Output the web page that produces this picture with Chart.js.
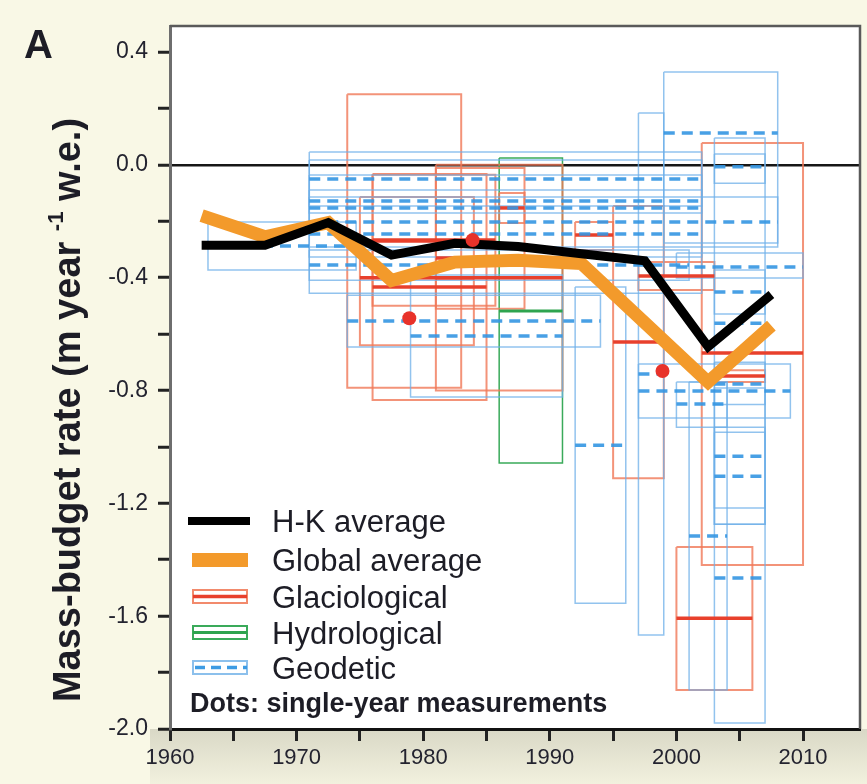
<!DOCTYPE html>
<html lang="en">
<head>
<meta charset="UTF-8" />
<title>Mass-budget rate</title>
<script src="https://cdn.jsdelivr.net/npm/chart.js@4.4.1/dist/chart.umd.min.js"></script>
<style>
  html, body { margin: 0; padding: 0; background: #f9f8e6; }
  body {
    width: 867px; height: 784px; position: relative; overflow: hidden;
    font-family: "Liberation Sans", Arial, Helvetica, sans-serif; color: #1d1d26;
  }
  #chart { position: absolute; left: 0; top: 0; }
  .panel { position: absolute; left: 24px; top: 24px; font-weight: bold; font-size: 40px; line-height: 1; }
  .ytitle {
    position: absolute; left: -294px; top: 390px; width: 700px; height: 40px;
    line-height: 40px; text-align: center; font-weight: bold; font-size: 38px;
    transform: rotate(-90deg); white-space: nowrap;
  }
  .ytitle sup { font-size: 58%; vertical-align: 0.75em; font-weight: bold; }
  .keys { position: absolute; left: 0; top: 0; pointer-events: none; }
  .lbl { position: absolute; left: 272px; font-size: 31px; line-height: 1; white-space: nowrap; }
  .note { position: absolute; left: 190px; top: 690px; font-size: 27px; font-weight: bold; line-height: 1; white-space: nowrap; }
</style>
</head>
<body>
<canvas id="chart" width="867" height="784"></canvas>
<div class="panel">A</div>
<div class="ytitle">Mass-budget rate (m year <sup>-1</sup> w.e.)</div>
<svg class="keys" width="867" height="784">
  <line x1="188" y1="521" x2="250" y2="521" stroke="#000" stroke-width="8" />
  <rect x="192" y="553" width="56" height="14" fill="#f39a2b" />
  <rect x="193" y="590" width="54" height="13" fill="none" stroke="#f28a6c" stroke-width="2" />
  <line x1="193" y1="596.5" x2="247" y2="596.5" stroke="#e8402c" stroke-width="3.5" />
  <rect x="193" y="626" width="54" height="13" fill="none" stroke="#3aaa5a" stroke-width="2" />
  <line x1="193" y1="632.5" x2="247" y2="632.5" stroke="#2ea44f" stroke-width="3" />
  <rect x="193" y="661" width="54" height="13" fill="none" stroke="#8cc0ec" stroke-width="2" />
  <line x1="195" y1="667.5" x2="247" y2="667.5" stroke="#3d9be3" stroke-width="3.5" stroke-dasharray="10 6" />
</svg>
<div class="lbl" style="top:506px">H-K average</div>
<div class="lbl" style="top:545px">Global average</div>
<div class="lbl" style="top:582px">Glaciological</div>
<div class="lbl" style="top:618px">Hydrological</div>
<div class="lbl" style="top:653px">Geodetic</div>
<div class="note">Dots: single-year measurements</div>
<script>
  // pentad averages
  const pentadYears = [1962.5, 1967.5, 1972.5, 1977.5, 1982.5, 1987.5, 1992.5, 1997.5, 2002.5, 2007.5];
  const hkAverage = [-0.285, -0.285, -0.205, -0.32, -0.278, -0.29, -0.315, -0.34, -0.645, -0.46];
  const globalAverage = [-0.18, -0.255, -0.205, -0.41, -0.345, -0.338, -0.35, -0.56, -0.77, -0.57];

  // glaciological estimates: period, mean rate, error range
  const glacioStart = [1974, 1975, 1976, 1976, 1981, 1981, 1986, 1992, 1995, 1997, 2002, 2000, 2003];
  const glacioEnd = [1983, 1984, 1985, 1985.7, 1988, 1991, 1988, 1995, 1999, 2003, 2010, 2006, 2007];
  const glacioMean = [-0.27, -0.40, -0.433, -0.267, -0.33, -0.40, -0.153, -0.249, -0.628, -0.394, -0.667, -1.607, -0.749];
  const glacioLow = [-0.79, -0.64, -0.834, -0.50, -0.51, -0.80, -0.206, -0.302, -1.111, -0.444, -1.419, -1.862, -0.77];
  const glacioHigh = [0.25, -0.114, -0.033, -0.035, -0.011, 0.0, -0.10, -0.203, -0.146, -0.345, 0.077, -1.355, -0.728];

  // hydrological estimates
  const hydroStart = [1986];
  const hydroEnd = [1991];
  const hydroMean = [-0.518];
  const hydroLow = [-1.057];
  const hydroHigh = [0.024];

  // geodetic estimates
  const geoStart = [1963, 1971, 1971, 1971, 1971, 1971, 1971, 2000, 1974, 1979, 1992, 1997, 1999,
    2003, 2003, 2003, 2003, 2003, 2001, 1997, 2000, 2003, 2003];
  const geoEnd = [1974.7, 2002, 2002, 2002, 2008, 2002, 2001, 2010, 1994, 1991, 1996, 1999, 2008,
    2007, 2007, 2007, 2007, 2007, 2004, 2009, 2004, 2007, 2007];
  const geoMean = [-0.288, -0.05, -0.128, -0.153, -0.203, -0.245, -0.355, -0.362, -0.554, -0.607, -0.994, -0.742, 0.113,
    -0.562, -1.033, -1.104, -1.465, -0.007, -1.316, -0.802, -0.848, -0.451, -0.777];
  const geoLow = [-0.373, -0.146, -0.171, -0.327, -0.291, -0.455, -0.409, -0.401, -0.646, -0.823, -1.554, -1.667, -0.277,
    -1.217, -1.274, -1.274, -1.979, -0.065, -1.862, -0.898, -0.93, -0.529, -0.85];
  const geoHigh = [-0.203, 0.045, -0.089, 0.017, -0.114, -0.036, -0.302, -0.313, -0.462, -0.391, -0.433, 0.184, 0.329,
    0.095, -0.791, -0.93, -0.948, 0.038, -0.77, -0.706, -0.77, -0.373, -0.70];

  // single-year measurements
  const dotYears = [1978.9, 1983.9, 1998.9];
  const dotValues = [-0.544, -0.267, -0.731];

  const styles = {
    glacio: { box: "rgba(240,120,88,0.8)", boxWidth: 2, mean: "#e8402c", meanWidth: 3.5, dash: [] },
    hydro: { box: "#3aaa5a", boxWidth: 1.5, mean: "#2ea44f", meanWidth: 3, dash: [] },
    geo: { box: "rgba(110,175,232,0.75)", boxWidth: 1.5, mean: "rgba(52,150,226,0.9)", meanWidth: 3.5, dash: [11, 7] },
  };

  function estimateSets(start, end, mean, low, high, s) {
    const boxes = [];
    const means = [];
    start.forEach((x0, i) => {
      const x1 = end[i];
      boxes.push({
        data: [
          { x: x0, y: high[i] }, { x: x1, y: high[i] }, { x: x1, y: low[i] },
          { x: x0, y: low[i] }, { x: x0, y: high[i] },
        ],
        borderColor: s.box,
        borderWidth: s.boxWidth,
        borderJoinStyle: "miter",
        order: 4,
      });
      means.push({
        data: [{ x: x0, y: mean[i] }, { x: x1, y: mean[i] }],
        borderColor: s.mean,
        borderWidth: s.meanWidth,
        borderDash: s.dash,
        order: 3,
      });
    });
    return boxes.concat(means);
  }

  const datasets = [
    ...estimateSets(geoStart, geoEnd, geoMean, geoLow, geoHigh, styles.geo),
    ...estimateSets(glacioStart, glacioEnd, glacioMean, glacioLow, glacioHigh, styles.glacio),
    ...estimateSets(hydroStart, hydroEnd, hydroMean, hydroLow, hydroHigh, styles.hydro),
    {
      label: "Global average",
      data: pentadYears.map((x, i) => ({ x, y: globalAverage[i] })),
      borderColor: "#f39a2b",
      borderWidth: 13,
      borderJoinStyle: "miter",
      order: 2,
    },
    {
      label: "H-K average",
      data: pentadYears.map((x, i) => ({ x, y: hkAverage[i] })),
      borderColor: "#000",
      borderWidth: 9,
      borderJoinStyle: "miter",
      order: 1,
    },
    {
      type: "scatter",
      label: "Single-year",
      data: dotYears.map((x, i) => ({ x, y: dotValues[i] })),
      backgroundColor: "#e8322a",
      borderWidth: 0,
      pointRadius: 7,
      order: 0,
    },
  ];

  // white plot area, shaded strip under the time axis, top/right frame
  const framePlugin = {
    id: "frame",
    beforeDraw(chart) {
      const { ctx, chartArea: a } = chart;
      ctx.save();
      const g = ctx.createLinearGradient(0, a.bottom, 0, chart.height);
      g.addColorStop(0, "#d9d8c6");
      g.addColorStop(1, "#f2f1de");
      ctx.fillStyle = g;
      ctx.fillRect(a.left - 20, a.bottom, chart.width - a.left + 20, chart.height - a.bottom);
      ctx.fillStyle = "#fff";
      ctx.fillRect(a.left, a.top, a.right - a.left, a.bottom - a.top);
      ctx.restore();
    },
    afterDraw(chart) {
      const { ctx, chartArea: a } = chart;
      ctx.save();
      ctx.strokeStyle = "#5a5a5a";
      ctx.lineWidth = 2.5;
      ctx.beginPath();
      ctx.moveTo(a.left, a.top);
      ctx.lineTo(a.right, a.top);
      ctx.lineTo(a.right, a.bottom);
      ctx.stroke();
      ctx.restore();
    },
  };

  new Chart(document.getElementById("chart"), {
    type: "line",
    data: { datasets },
    plugins: [framePlugin],
    options: {
      responsive: false,
      animation: false,
      devicePixelRatio: 1,
      layout: { padding: { top: 26, right: 2, left: 0, bottom: 0 } },
      elements: { point: { radius: 0 }, line: { tension: 0, fill: false } },
      plugins: { legend: { display: false }, tooltip: { enabled: false } },
      scales: {
        x: {
          type: "linear",
          min: 1960,
          max: 2014.5,
          afterFit: (s) => { s.height = 55; },
          ticks: {
            stepSize: 5,
            includeBounds: false,
            autoSkip: false,
            maxRotation: 0,
            padding: 4,
            color: "#23232f",
            font: { family: "Liberation Sans", size: 22 },
            callback: (v) => (Math.round(v) % 10 === 0 ? String(Math.round(v)) : ""),
          },
          grid: { drawOnChartArea: false, tickLength: 12, tickWidth: 3, tickColor: "#222" },
          border: { color: "#111", width: 3 },
        },
        y: {
          type: "linear",
          min: -2,
          max: 0.492,
          z: 1,
          afterFit: (s) => { s.width = 170; },
          ticks: {
            stepSize: 0.2,
            includeBounds: false,
            autoSkip: false,
            padding: 10,
            color: "#23232f",
            font: { family: "Liberation Sans", size: 23 },
            callback: (v) => {
              const t = Math.round(v * 10);
              return t % 4 === 0 ? (t / 10).toFixed(1) : "";
            },
          },
          grid: {
            color: (c) => (c.tick && Math.abs(c.tick.value) < 1e-6 ? "#161616" : "rgba(0,0,0,0)"),
            lineWidth: 2.5,
            tickLength: 12,
            tickWidth: 3,
            tickColor: "#222",
          },
          border: { color: "#6e6e6e", width: 3 },
        },
      },
    },
  });
</script>
</body>
</html>
